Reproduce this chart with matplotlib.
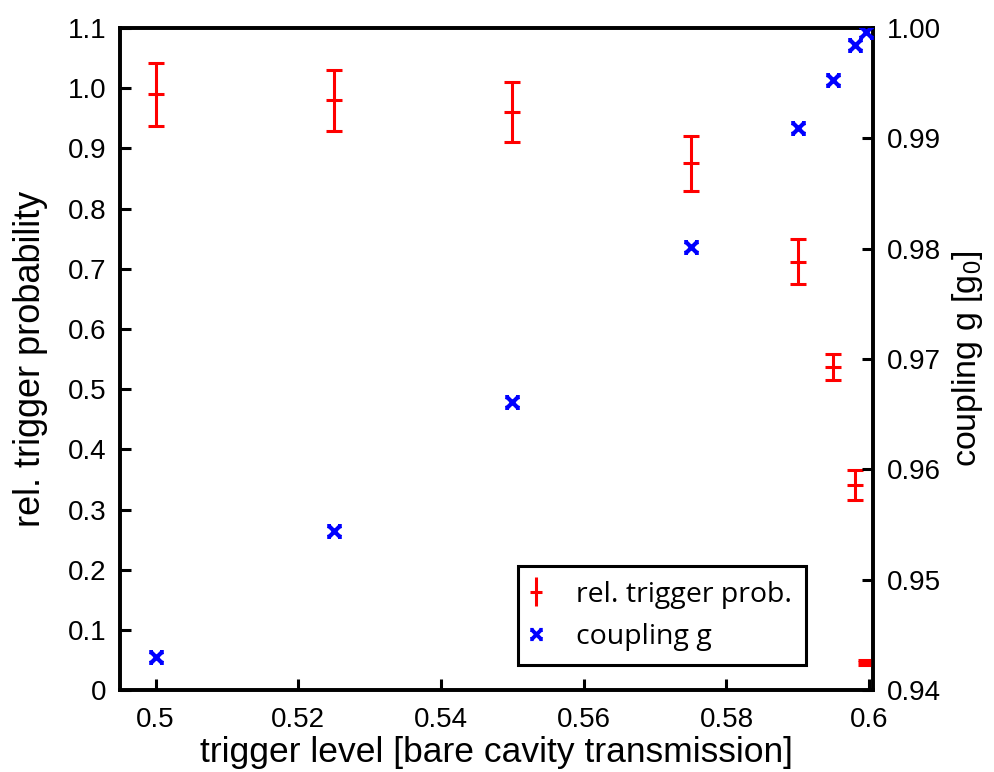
import matplotlib
matplotlib.use("Agg")
import matplotlib.pyplot as plt
from matplotlib.lines import Line2D
from matplotlib.path import Path

plt.rcParams['font.family'] = ['Liberation Sans', 'DejaVu Sans']
plt.rcParams['mathtext.fontset'] = 'custom'
plt.rcParams['mathtext.rm'] = 'Liberation Sans'

# data
trigger_level = [0.5, 0.525, 0.55, 0.575, 0.59, 0.595, 0.598, 0.5995]
rel_prob = [0.99, 0.98, 0.96, 0.875, 0.712, 0.537, 0.341, 0.046]
rel_prob_err = [0.052, 0.051, 0.05, 0.046, 0.037, 0.022, 0.025, 0.004]
coupling = [0.9430, 0.9544, 0.9661, 0.9802, 0.9909, 0.9953, 0.99845, 0.99964]
xticks = [0.5, 0.52, 0.54, 0.56, 0.58, 0.6]
xticklabels = ['0.5', '0.52', '0.54', '0.56', '0.58', '0.6']
yticks_left = [0, 0.1, 0.2, 0.3, 0.4, 0.5, 0.6, 0.7, 0.8, 0.9, 1.0, 1.1]
yticklabels_left = ['0', '0.1', '0.2', '0.3', '0.4', '0.5', '0.6', '0.7', '0.8', '0.9', '1.0', '1.1']
yticks_right = [0.94, 0.95, 0.96, 0.97, 0.98, 0.99, 1.00]
yticklabels_right = ['0.94', '0.95', '0.96', '0.97', '0.98', '0.99', '1.00']

# x marker with short horizontal serifs at the ends
verts = [(-1, -1), (1, 1), (-1, 1), (1, -1),
         (-1.35, 1), (-0.65, 1), (0.65, 1), (1.35, 1),
         (-1.35, -1), (-0.65, -1), (0.65, -1), (1.35, -1)]
codes = [Path.MOVETO, Path.LINETO] * 6
xmark = Path(verts, codes)

fig = plt.figure(figsize=(9.95, 7.72), dpi=100)
ax = fig.add_axes([0.1206, 0.106, 0.7565, 0.8577])
ax2 = ax.twinx()

ax.errorbar(trigger_level, rel_prob, yerr=rel_prob_err, fmt='_', color='red',
            ecolor='red', elinewidth=2.2, capsize=6, capthick=2.2, markersize=11,
            markeredgewidth=2.2, zorder=3)
ax2.plot(trigger_level, coupling, linestyle='none', marker=xmark, color='blue',
         markersize=10.5, markeredgewidth=3.0, zorder=3)

ax.set_xlim(0.495, 0.6005)
ax.set_ylim(0, 1.1)
ax2.set_ylim(0.94, 1.0)
ax.set_xticks(xticks)
ax.set_xticklabels(xticklabels)
ax.set_yticks(yticks_left)
ax.set_yticklabels(yticklabels_left)
ax2.set_yticks(yticks_right)
ax2.set_yticklabels(yticklabels_right)

for a in (ax, ax2):
    for s in a.spines.values():
        s.set_linewidth(2.6)
    a.tick_params(direction='in', length=8, width=2.2, labelsize=20)
ax.tick_params(axis='x', pad=12, top=False)
ax.tick_params(axis='y', pad=10, right=False)
ax2.tick_params(axis='y', pad=10)

ax.set_xlabel('trigger level [bare cavity transmission]', fontsize=25.5, labelpad=2)
ax.set_ylabel('rel. trigger probability', fontsize=26, labelpad=14)
ax2.set_ylabel('coupling g [g$_0$]', fontsize=24.5, labelpad=7)

eb = ax.errorbar([], [], yerr=[], fmt='_', color='red', elinewidth=2.2, capsize=5,
                 capthick=2.2, markersize=9, markeredgewidth=2.2)
h2 = Line2D([], [], color='blue', marker=xmark, linestyle='none', markersize=9,
            markeredgewidth=2.8)
leg = ax2.legend([eb, h2], ['rel. trigger prob.', 'coupling g'],
                 loc='lower left', bbox_to_anchor=(0.5286, 0.038), borderaxespad=0,
                 frameon=True, fancybox=False, framealpha=1, handlelength=0.25,
                 handletextpad=1.3, borderpad=0.5, labelspacing=0.5,
                 prop={'family': ['Open Sans', 'DejaVu Sans'], 'size': 20.5})
leg.get_frame().set_edgecolor('black')
leg.get_frame().set_linewidth(2.2)

fig.savefig('out.png', dpi=100)
